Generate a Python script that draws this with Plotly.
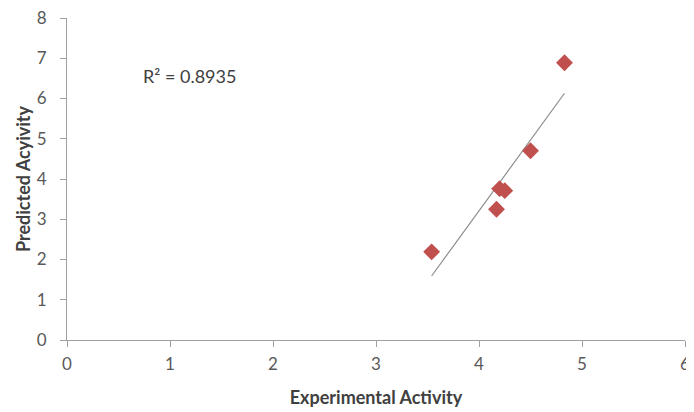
import numpy as np
import plotly.graph_objects as go

exp_activity = [3.54, 4.17, 4.20, 4.25, 4.50, 4.83]
pred_activity = [2.19, 3.25, 3.76, 3.71, 4.70, 6.89]
r2_label = "R² = 0.8935"
x_title = "Experimental Activity"
y_title = "Predicted Acyivity"

x = np.array(exp_activity)
y = np.array(pred_activity)
slope, intercept = np.polyfit(x, y, 1)
xl = np.array([x.min(), x.max()])
yl = slope * xl + intercept

font = "Lato, 'Open Sans', sans-serif"

fig = go.Figure()
fig.add_trace(go.Scatter(x=xl, y=yl, mode="lines",
                         line=dict(color="#8c8c8c", width=1.2),
                         showlegend=False, hoverinfo="skip"))
fig.add_trace(go.Scatter(x=exp_activity, y=pred_activity, mode="markers",
                         marker=dict(symbol="diamond", size=13, color="#C0504D",
                                     line=dict(width=0)),
                         showlegend=False))

fig.add_annotation(x=1.19, y=6.56, xref="x", yref="y", text=r2_label,
                   showarrow=False, font=dict(family=font, size=18, color="#404040"))

axis_common = dict(showgrid=False, zeroline=False, showline=True, automargin=False,
                   linecolor="#a0a0a0", linewidth=1, ticks="outside",
                   ticklen=6, tickcolor="#a0a0a0", ticklabeloverflow="allow",
                   tickfont=dict(family=font, size=17, color="#595959"))

fig.update_xaxes(range=[0, 6], dtick=1, tick0=0, ticklabelstandoff=3,
                 title=dict(text="<b>" + x_title + "</b>",
                            font=dict(family=font, size=18, color="#404040"), standoff=17),
                 **axis_common)
fig.update_yaxes(range=[0, 8], dtick=1, tick0=0, ticklabelstandoff=10,
                 title=dict(text="<b>" + y_title + "</b>",
                            font=dict(family=font, size=18, color="#404040"), standoff=1),
                 **axis_common)

# page body has an 8px margin, so the figure is offset by 8px on screen;
# size the figure so it fits inside the 694x412 window
fig.update_layout(width=686, height=404, plot_bgcolor="white", paper_bgcolor="white",
                  margin=dict(l=59, r=9, t=10, b=72))

fig.write_html("out.html")
